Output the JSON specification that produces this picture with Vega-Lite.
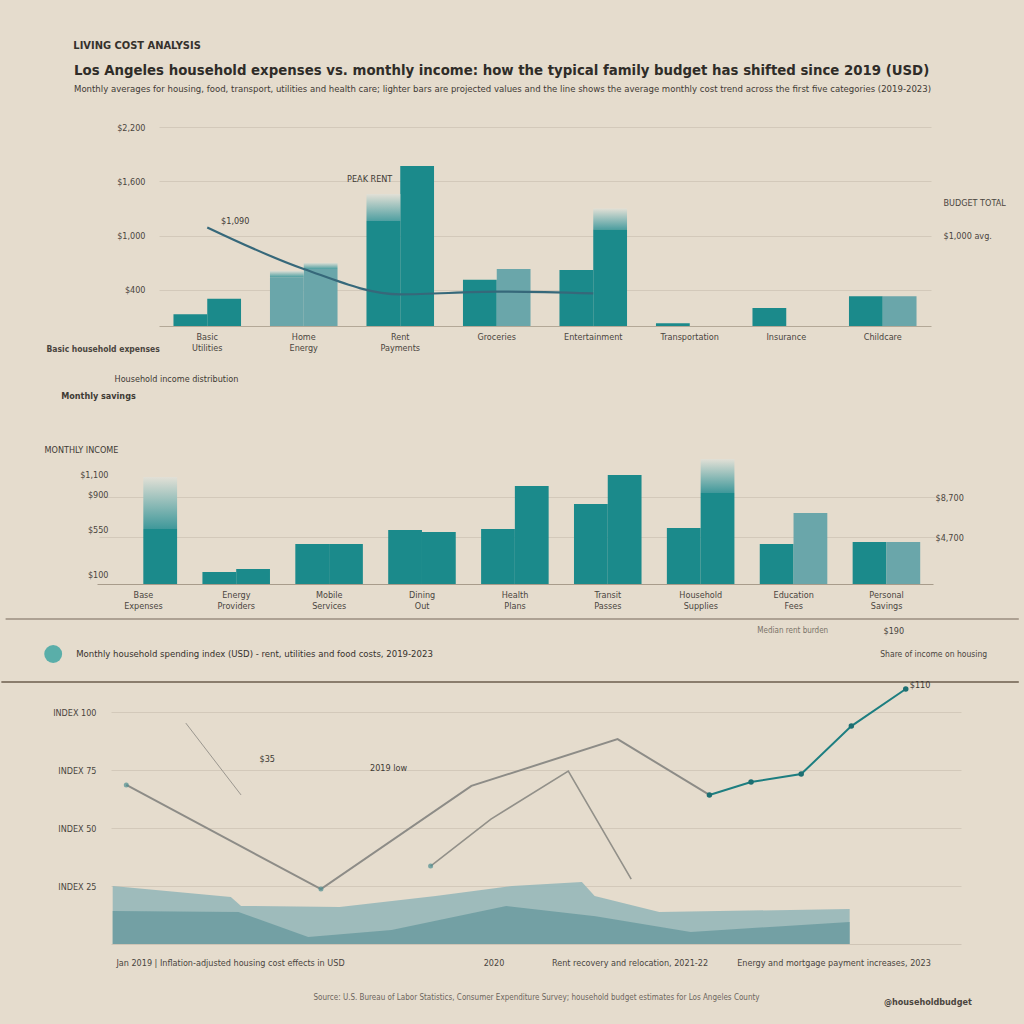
{
"$schema": "https://vega.github.io/schema/vega-lite/v6.json",
"background": "#e5dccd",
"padding": {"left": 0, "top": 39, "right": 12, "bottom": 24},
"autosize": {"type": "pad"},
"bounds": "flush",
"spacing": 35,
"title": {"text": "LIVING COST ANALYSIS", "anchor": "start", "frame": "bounds", "dx": 73, "fontSize": 11, "fontWeight": "bold", "color": "#35312c", "offset": 12},
"config": {
  "font": "DejaVu Sans Condensed, Liberation Sans Narrow, sans-serif",
  "view": {"stroke": null},
  "axis": {"labelColor": "#4a453e", "labelFontSize": 9, "titleColor": "#4a453e", "gridColor": "#d3c9ba", "gridWidth": 1.2, "domainColor": "#b3a897", "tickColor": "#b3a897"}
},
"vconcat": [
{
  "width": 820, "height": 199,
  "title": {"text": "Los Angeles household expenses vs. monthly income: how the typical family budget has shifted since 2019 (USD)", "subtitle": "Monthly averages for housing, food, transport, utilities and health care; lighter bars are projected values and the line shows the average monthly cost trend across the first five categories (2019-2023)", "anchor": "start", "frame": "group", "dx": -37, "offset": 30, "fontSize": 14.8, "fontWeight": "bold", "subtitleFontSize": 9.5, "subtitlePadding": 6, "color": "#2f2c28", "subtitleColor": "#3f3a34"},
  "resolve": {"axis": {"y": "independent"}},
  "layer": [
    {
      "data": {"values": [
        {"category": "Basic Utilities", "year": "2019", "amount": 130, "status": "Actual"},
        {"category": "Basic Utilities", "year": "2023", "amount": 300, "status": "Actual"},
        {"category": "Home Energy", "year": "2019", "amount": 540, "status": "Projected"},
        {"category": "Home Energy", "year": "2023", "amount": 630, "status": "Projected"},
        {"category": "Rent Payments", "year": "2019", "amount": 1160, "status": "Actual"},
        {"category": "Rent Payments", "year": "2023", "amount": 1770, "status": "Actual"},
        {"category": "Groceries", "year": "2019", "amount": 510, "status": "Actual"},
        {"category": "Groceries", "year": "2023", "amount": 630, "status": "Projected"},
        {"category": "Entertainment", "year": "2019", "amount": 620, "status": "Actual"},
        {"category": "Entertainment", "year": "2023", "amount": 1070, "status": "Actual"},
        {"category": "Transportation", "year": "2019", "amount": 30, "status": "Actual"},
        {"category": "Transportation", "year": "2023", "amount": 0, "status": "Actual"},
        {"category": "Insurance", "year": "2019", "amount": 200, "status": "Actual"},
        {"category": "Insurance", "year": "2023", "amount": 0, "status": "Actual"},
        {"category": "Childcare", "year": "2019", "amount": 330, "status": "Actual"},
        {"category": "Childcare", "year": "2023", "amount": 330, "status": "Projected"}
      ]},
      "mark": {"type": "bar"},
      "encoding": {
        "x": {"field": "category", "type": "nominal", "sort": null,
          "scale": {"domain": ["Basic Utilities", "Home Energy", "Rent Payments", "Groceries", "Entertainment", "Transportation", "Insurance", "Childcare"], "rangeMin": 48, "paddingInner": 0.3, "paddingOuter": 0.15},
          "axis": {"title": "Basic household expenses", "labelExpr": "split(datum.value, ' ')", "labelAngle": 0, "labelPadding": 6, "ticks": false, "titleAnchor": "start", "titleX": -65, "titleY": 18, "titleAlign": "left", "titleBaseline": "top", "titleFontSize": 8.5, "titleFontWeight": "bold"}},
        "xOffset": {"field": "year", "type": "nominal", "scale": {"domain": ["2019", "2023"]}},
        "y": {"field": "amount", "type": "quantitative", "scale": {"domain": [0, 2200]},
          "axis": {"title": null, "values": [400, 1000, 1600, 2200], "offset": -48, "domain": false, "ticks": false, "labelPadding": 14, "format": "$,.0f"}},
        "color": {"field": "status", "type": "nominal", "scale": {"domain": ["Actual", "Projected"], "range": ["#1b8a8b", "#6aa6aa"]}, "legend": null}
      }
    },
    {
      "data": {"values": [
        {"category": "Rent Payments", "year": "2019", "low": 1160, "high": 1460},
        {"category": "Entertainment", "year": "2023", "low": 1070, "high": 1300},
        {"category": "Home Energy", "year": "2023", "low": 630, "high": 700},
        {"category": "Home Energy", "year": "2019", "low": 540, "high": 610}
      ]},
      "mark": {"type": "bar", "color": {"gradient": "linear", "x1": 0, "y1": 1, "x2": 0, "y2": 0, "stops": [{"offset": 0, "color": "#4f9fa1"}, {"offset": 1, "color": "#e2e0d6"}]}},
      "encoding": {
        "x": {"field": "category", "type": "nominal", "sort": null, "scale": {"domain": ["Basic Utilities", "Home Energy", "Rent Payments", "Groceries", "Entertainment", "Transportation", "Insurance", "Childcare"], "rangeMin": 48, "paddingInner": 0.3, "paddingOuter": 0.15}},
        "xOffset": {"field": "year", "type": "nominal", "scale": {"domain": ["2019", "2023"]}},
        "y": {"field": "low", "type": "quantitative", "scale": {"domain": [0, 2200]}, "axis": null},
        "y2": {"field": "high"}
      }
    },
    {
      "data": {"values": [
        {"category": "Basic Utilities", "amount": 1090},
        {"category": "Home Energy", "amount": 630},
        {"category": "Rent Payments", "amount": 350},
        {"category": "Groceries", "amount": 380},
        {"category": "Entertainment", "amount": 360}
      ]},
      "mark": {"type": "line", "color": "#36687a", "strokeWidth": 2.2, "interpolate": "monotone"},
      "encoding": {
        "x": {"field": "category", "type": "nominal", "sort": null, "scale": {"domain": ["Basic Utilities", "Home Energy", "Rent Payments", "Groceries", "Entertainment", "Transportation", "Insurance", "Childcare"], "rangeMin": 48, "paddingInner": 0.3, "paddingOuter": 0.15}},
        "y": {"field": "amount", "type": "quantitative", "scale": {"domain": [0, 2200]},
          "axis": {"orient": "right", "title": null, "values": [1000, 1360], "grid": false, "domain": false, "ticks": false, "labelPadding": 12, "labelAlign": "left", "labelLimit": 0, "labelExpr": "datum.value == 1000 ? '$1,000 avg.' : 'BUDGET TOTAL'"}}
      }
    },
    {
      "data": {"values": [{"category": "Basic Utilities", "amount": 1090, "note": "$1,090"}]},
      "mark": {"type": "text", "dx": 28, "dy": -6, "fontSize": 9, "color": "#3e3a34"},
      "encoding": {
        "x": {"field": "category", "type": "nominal", "sort": null, "scale": {"domain": ["Basic Utilities", "Home Energy", "Rent Payments", "Groceries", "Entertainment", "Transportation", "Insurance", "Childcare"], "rangeMin": 48, "paddingInner": 0.3, "paddingOuter": 0.15}},
        "y": {"field": "amount", "type": "quantitative", "scale": {"domain": [0, 2200]}, "axis": null},
        "text": {"field": "note"}
      }
    },
    {
      "data": {"values": [{"category": "Rent Payments", "amount": 1620, "note": "PEAK RENT"}]},
      "mark": {"type": "text", "dx": -8, "align": "right", "fontSize": 9, "color": "#3e3a34"},
      "encoding": {
        "x": {"field": "category", "type": "nominal", "sort": null, "scale": {"domain": ["Basic Utilities", "Home Energy", "Rent Payments", "Groceries", "Entertainment", "Transportation", "Insurance", "Childcare"], "rangeMin": 48, "paddingInner": 0.3, "paddingOuter": 0.15}},
        "y": {"field": "amount", "type": "quantitative", "scale": {"domain": [0, 2200]}, "axis": null},
        "text": {"field": "note"}
      }
    }
  ]
},
{
  "width": 810, "height": 223,
  "resolve": {"axis": {"y": "independent"}},
  "layer": [
    {
      "data": {"values": [
        {"category": "Base Expenses", "year": "2019", "amount": 0, "status": "Actual"},
        {"category": "Base Expenses", "year": "2023", "amount": 550, "status": "Actual"},
        {"category": "Energy Providers", "year": "2019", "amount": 120, "status": "Actual"},
        {"category": "Energy Providers", "year": "2023", "amount": 150, "status": "Actual"},
        {"category": "Mobile Services", "year": "2019", "amount": 400, "status": "Actual"},
        {"category": "Mobile Services", "year": "2023", "amount": 400, "status": "Actual"},
        {"category": "Dining Out", "year": "2019", "amount": 540, "status": "Actual"},
        {"category": "Dining Out", "year": "2023", "amount": 520, "status": "Actual"},
        {"category": "Health Plans", "year": "2019", "amount": 550, "status": "Actual"},
        {"category": "Health Plans", "year": "2023", "amount": 980, "status": "Actual"},
        {"category": "Transit Passes", "year": "2019", "amount": 800, "status": "Actual"},
        {"category": "Transit Passes", "year": "2023", "amount": 1090, "status": "Actual"},
        {"category": "Household Supplies", "year": "2019", "amount": 560, "status": "Actual"},
        {"category": "Household Supplies", "year": "2023", "amount": 910, "status": "Actual"},
        {"category": "Education Fees", "year": "2019", "amount": 400, "status": "Actual"},
        {"category": "Education Fees", "year": "2023", "amount": 710, "status": "Projected"},
        {"category": "Personal Savings", "year": "2019", "amount": 420, "status": "Actual"},
        {"category": "Personal Savings", "year": "2023", "amount": 420, "status": "Projected"}
      ]},
      "mark": {"type": "bar"},
      "encoding": {
        "x": {"field": "category", "type": "nominal", "sort": null,
          "scale": {"domain": ["Base Expenses", "Energy Providers", "Mobile Services", "Dining Out", "Health Plans", "Transit Passes", "Household Supplies", "Education Fees", "Personal Savings"], "rangeMin": -14, "rangeMax": 822, "paddingInner": 0.27, "paddingOuter": 0.135},
          "axis": {"title": null, "labelExpr": "split(datum.value, ' ')", "labelAngle": 0, "labelPadding": 6, "ticks": false, "domainColor": "#a89c8b"}},
        "xOffset": {"field": "year", "type": "nominal", "scale": {"domain": ["2019", "2023"]}},
        "y": {"field": "amount", "type": "quantitative", "scale": {"domain": [0, 2230]},
          "axis": {"title": null, "values": [100, 550, 900, 1100], "grid": false, "domain": false, "ticks": false, "labelPadding": 3, "format": "$,.0f"}},
        "color": {"field": "status", "type": "nominal", "scale": {"domain": ["Actual", "Projected"], "range": ["#1b8a8b", "#7fb0b2"]}, "legend": null}
      }
    },
    {
      "data": {"values": [
        {"category": "Base Expenses", "year": "2023", "low": 550, "high": 1070},
        {"category": "Household Supplies", "year": "2023", "low": 910, "high": 1250}
      ]},
      "mark": {"type": "bar", "color": {"gradient": "linear", "x1": 0, "y1": 1, "x2": 0, "y2": 0, "stops": [{"offset": 0, "color": "#3f989a"}, {"offset": 1, "color": "#e2e0d6"}]}},
      "encoding": {
        "x": {"field": "category", "type": "nominal", "sort": null, "scale": {"domain": ["Base Expenses", "Energy Providers", "Mobile Services", "Dining Out", "Health Plans", "Transit Passes", "Household Supplies", "Education Fees", "Personal Savings"], "rangeMin": -14, "rangeMax": 822, "paddingInner": 0.27, "paddingOuter": 0.135}},
        "xOffset": {"field": "year", "type": "nominal", "scale": {"domain": ["2019", "2023"]}},
        "y": {"field": "low", "type": "quantitative", "scale": {"domain": [0, 2230]}, "axis": null},
        "y2": {"field": "high"}
      }
    },
    {
      "data": {"values": [{"category": "Base Expenses", "amount": 2050, "note": "Household income distribution"}]},
      "mark": {"type": "text", "dx": 33, "fontSize": 9, "color": "#3e3a34"},
      "encoding": {
        "x": {"field": "category", "type": "nominal", "sort": null, "scale": {"domain": ["Base Expenses", "Energy Providers", "Mobile Services", "Dining Out", "Health Plans", "Transit Passes", "Household Supplies", "Education Fees", "Personal Savings"], "rangeMin": -14, "rangeMax": 822, "paddingInner": 0.27, "paddingOuter": 0.135}},
        "y": {"field": "amount", "type": "quantitative", "scale": {"domain": [0, 2230]},
          "axis": {"orient": "right", "title": null, "values": [470, 870], "grid": true, "domain": false, "ticks": false, "labelPadding": 14, "labelExpr": "'$' + format(datum.value * 10, ',')"}},
        "text": {"field": "note"}
      }
    },
    {
      "data": {"values": [{"category": "Base Expenses", "amount": 1880, "note": "Monthly savings"}]},
      "mark": {"type": "text", "dx": -45, "fontSize": 9, "fontWeight": "bold", "color": "#3e3a34"},
      "encoding": {
        "x": {"field": "category", "type": "nominal", "sort": null, "scale": {"domain": ["Base Expenses", "Energy Providers", "Mobile Services", "Dining Out", "Health Plans", "Transit Passes", "Household Supplies", "Education Fees", "Personal Savings"], "rangeMin": -14, "rangeMax": 822, "paddingInner": 0.27, "paddingOuter": 0.135}},
        "y": {"field": "amount", "type": "quantitative", "scale": {"domain": [0, 2230]}, "axis": null},
        "text": {"field": "note"}
      }
    },
    {
      "data": {"values": [{"category": "Base Expenses", "amount": 1340, "note": "MONTHLY INCOME"}]},
      "mark": {"type": "text", "dx": -62, "fontSize": 9, "color": "#3e3a34"},
      "encoding": {
        "x": {"field": "category", "type": "nominal", "sort": null, "scale": {"domain": ["Base Expenses", "Energy Providers", "Mobile Services", "Dining Out", "Health Plans", "Transit Passes", "Household Supplies", "Education Fees", "Personal Savings"], "rangeMin": -14, "rangeMax": 822, "paddingInner": 0.27, "paddingOuter": 0.135}},
        "y": {"field": "amount", "type": "quantitative", "scale": {"domain": [0, 2230]}, "axis": null},
        "text": {"field": "note"}
      }
    }
  ]
},
{
  "width": 850, "height": 325,
  "layer": [
    {
      "data": {"values": [{}]},
      "mark": {"type": "rule", "color": "#9a8e7f", "strokeWidth": 1.5},
      "encoding": {
        "x": {"datum": -12.4, "type": "quantitative", "scale": {"domain": [0, 100]}},
        "x2": {"datum": 106.8},
        "y": {"datum": 140.2, "type": "quantitative", "scale": {"domain": [0, 140.2]},
          "axis": {"title": null, "values": [25, 50, 75, 100], "grid": true, "gridColor": "#d3c9ba", "domain": false, "ticks": false, "labelPadding": 15, "labelExpr": "'INDEX  ' + datum.value"}}
      }
    },
    {
      "data": {"values": [{}]},
      "mark": {"type": "rule", "color": "#8a7d6d", "strokeWidth": 2},
      "encoding": {
        "x": {"datum": -12.9, "type": "quantitative", "scale": {"domain": [0, 100]}},
        "x2": {"datum": 106.8},
        "y": {"datum": 113, "type": "quantitative", "scale": {"domain": [0, 140.2]}}
      }
    },
    {
      "data": {"values": [
        {"t": 0.2, "v": 25}, {"t": 14.1, "v": 20.3}, {"t": 15.3, "v": 16.4}, {"t": 26.9, "v": 16},
        {"t": 38.2, "v": 20.7}, {"t": 47.2, "v": 25}, {"t": 55.4, "v": 26.7}, {"t": 56.9, "v": 20.7},
        {"t": 64.5, "v": 13.8}, {"t": 86.9, "v": 15.1}
      ]},
      "mark": {"type": "area", "color": "#96b7b9", "opacity": 0.9},
      "encoding": {
        "x": {"field": "t", "type": "quantitative", "scale": {"domain": [0, 100]},
          "axis": {"title": "Source: U.S. Bureau of Labor Statistics, Consumer Expenditure Survey; household budget estimates for Los Angeles County", "values": [14, 45, 61, 85], "grid": false, "ticks": false, "labelPadding": 14, "labelFontSize": 9, "labelLimit": 0, "titleFontSize": 8, "titleFontWeight": "normal", "titleColor": "#6d665d", "titlePadding": 26, "domainColor": "#cfc5b6",
            "labelExpr": "datum.value == 14 ? 'Jan 2019  |  Inflation-adjusted housing cost effects in USD' : datum.value == 45 ? '2020' : datum.value == 61 ? 'Rent recovery and relocation, 2021-22' : 'Energy and mortgage payment increases, 2023'"}},
        "y": {"field": "v", "type": "quantitative", "scale": {"domain": [0, 140.2]}}
      }
    },
    {
      "data": {"values": [
        {"t": 0.2, "v": 14.2}, {"t": 15, "v": 13.8}, {"t": 23.2, "v": 3}, {"t": 33, "v": 6},
        {"t": 46.5, "v": 16.4}, {"t": 57, "v": 12}, {"t": 68.2, "v": 5.2}, {"t": 86.9, "v": 9.5}
      ]},
      "mark": {"type": "area", "color": "#6b9ba0", "opacity": 0.85},
      "encoding": {
        "x": {"field": "t", "type": "quantitative", "scale": {"domain": [0, 100]}},
        "y": {"field": "v", "type": "quantitative", "scale": {"domain": [0, 140.2]}}
      }
    },
    {
      "data": {"values": [{"t": 8.8, "v": 95.3}, {"t": 15.3, "v": 64.3}]},
      "mark": {"type": "line", "color": "#9b978f", "strokeWidth": 1},
      "encoding": {
        "x": {"field": "t", "type": "quantitative", "scale": {"domain": [0, 100]}},
        "y": {"field": "v", "type": "quantitative", "scale": {"domain": [0, 140.2]}}
      }
    },
    {
      "data": {"values": [
        {"t": 1.8, "v": 68.6}, {"t": 24.7, "v": 23.7}, {"t": 42.4, "v": 68.2}, {"t": 59.6, "v": 88.4}, {"t": 70.4, "v": 64.3}
      ]},
      "mark": {"type": "line", "color": "#8d8c87", "strokeWidth": 2},
      "encoding": {
        "x": {"field": "t", "type": "quantitative", "scale": {"domain": [0, 100]}},
        "y": {"field": "v", "type": "quantitative", "scale": {"domain": [0, 140.2]}}
      }
    },
    {
      "data": {"values": [
        {"t": 37.6, "v": 33.6}, {"t": 44.7, "v": 53.9}, {"t": 53.8, "v": 74.6}, {"t": 61.2, "v": 28}
      ]},
      "mark": {"type": "line", "color": "#929089", "strokeWidth": 1.6},
      "encoding": {
        "x": {"field": "t", "type": "quantitative", "scale": {"domain": [0, 100]}},
        "y": {"field": "v", "type": "quantitative", "scale": {"domain": [0, 140.2]}}
      }
    },
    {
      "data": {"values": [
        {"t": 70.4, "v": 64.3}, {"t": 75.3, "v": 69.9}, {"t": 81.2, "v": 73.3}, {"t": 87.1, "v": 94}, {"t": 93.5, "v": 110}
      ]},
      "mark": {"type": "line", "color": "#1d7e80", "strokeWidth": 2, "point": {"filled": true, "size": 30, "color": "#1d6f72"}},
      "encoding": {
        "x": {"field": "t", "type": "quantitative", "scale": {"domain": [0, 100]}},
        "y": {"field": "v", "type": "quantitative", "scale": {"domain": [0, 140.2]}}
      }
    },
    {
      "data": {"values": [{"t": 37.6, "v": 33.6}, {"t": 24.7, "v": 23.7}, {"t": 1.8, "v": 68.6}]},
      "mark": {"type": "point", "filled": true, "size": 25, "color": "#4f8e92"},
      "encoding": {
        "x": {"field": "t", "type": "quantitative", "scale": {"domain": [0, 100]}},
        "y": {"field": "v", "type": "quantitative", "scale": {"domain": [0, 140.2]}}
      }
    },
    {
      "data": {"values": [{"t": 93.5, "v": 110, "note": "$110"}, {"t": 17, "v": 78, "note": "$35"}, {"t": 30, "v": 74, "note": "2019 low"}]},
      "mark": {"type": "text", "dx": 4, "dy": -4, "align": "left", "fontSize": 9, "color": "#3e3a34"},
      "encoding": {
        "x": {"field": "t", "type": "quantitative", "scale": {"domain": [0, 100]}},
        "y": {"field": "v", "type": "quantitative", "scale": {"domain": [0, 140.2]}},
        "text": {"field": "note"}
      }
    },
    {
      "data": {"values": [{}]},
      "mark": {"type": "point", "shape": "circle", "filled": true, "size": 320, "color": "#1f9a9a"},
      "encoding": {
        "x": {"datum": -6.8, "type": "quantitative", "scale": {"domain": [0, 100]}},
        "y": {"datum": 125.1, "type": "quantitative", "scale": {"domain": [0, 140.2]}}
      }
    },
    {
      "data": {"values": [{}]},
      "mark": {"type": "text", "align": "left", "baseline": "middle", "fontSize": 9.5, "color": "#35312c", "text": "Monthly household spending index (USD) - rent, utilities and food costs, 2019-2023"},
      "encoding": {
        "x": {"datum": -4.1, "type": "quantitative", "scale": {"domain": [0, 100]}},
        "y": {"datum": 125.1, "type": "quantitative", "scale": {"domain": [0, 140.2]}}
      }
    },
    {
      "data": {"values": [{}]},
      "mark": {"type": "text", "align": "left", "baseline": "middle", "fontSize": 8.5, "color": "#4a453e", "text": "Share of income on housing"},
      "encoding": {
        "x": {"datum": 90.5, "type": "quantitative", "scale": {"domain": [0, 100]}},
        "y": {"datum": 125.1, "type": "quantitative", "scale": {"domain": [0, 140.2]}}
      }
    },
    {
      "data": {"values": [{}]},
      "mark": {"type": "text", "align": "center", "baseline": "middle", "fontSize": 9, "color": "#4a453e", "text": "$190"},
      "encoding": {
        "x": {"datum": 92.1, "type": "quantitative", "scale": {"domain": [0, 100]}},
        "y": {"datum": 135, "type": "quantitative", "scale": {"domain": [0, 140.2]}}
      }
    },
    {
      "data": {"values": [{}]},
      "mark": {"type": "text", "align": "center", "baseline": "middle", "fontSize": 8, "color": "#7a7368", "text": "Median rent burden"},
      "encoding": {
        "x": {"datum": 80.2, "type": "quantitative", "scale": {"domain": [0, 100]}},
        "y": {"datum": 135, "type": "quantitative", "scale": {"domain": [0, 140.2]}}
      }
    },
    {
      "data": {"values": [{}]},
      "mark": {"type": "text", "align": "center", "baseline": "middle", "fontSize": 9, "fontWeight": "bold", "color": "#4a453e", "text": "@householdbudget"},
      "encoding": {
        "x": {"datum": 96.1, "type": "quantitative", "scale": {"domain": [0, 100]}},
        "y": {"datum": -25, "type": "quantitative", "scale": {"domain": [0, 140.2]}}
      }
    }
  ]
}
]
}
